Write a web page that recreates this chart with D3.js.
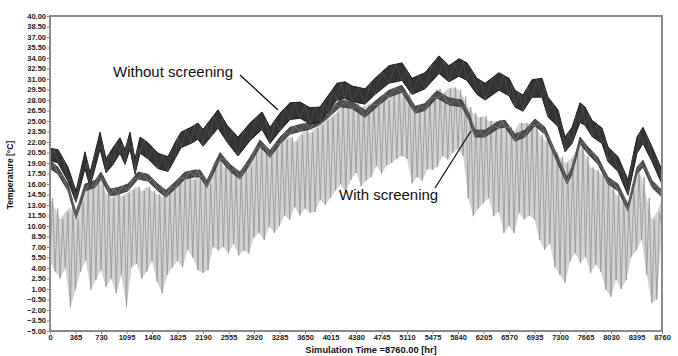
<!DOCTYPE html>
<html>
<head>
<meta charset="utf-8">
<script src="https://cdn.jsdelivr.net/npm/d3@7"></script>
<style>
  html, body { margin: 0; padding: 0; background: #fff; }
  svg { display: block; font-family: Arial, 'Liberation Sans', Helvetica, sans-serif; }
</style>
</head>
<body>
<div id="chart"></div>
<script>
// hourly simulation, one year (°C)
const xTicks = [0, 365, 730, 1095, 1460, 1825, 2190, 2555, 2920, 3285, 3650, 4015, 4380,
  4745, 5110, 5475, 5840, 6205, 6570, 6935, 7300, 7665, 8030, 8395, 8760];
const yTicks = [-5, -3.5, -2, -0.5, 1, 2.5, 4, 5.5, 7, 8.5, 10, 11.5, 13, 14.5, 16, 17.5, 19,
  20.5, 22, 23.5, 25, 26.5, 28, 29.5, 31, 32.5, 34, 35.5, 37, 38.5, 40];

// without screening: [hour, daily low, daily high]
const withoutScreening = [
  [0, 19.4, 21.1], [115, 19.0, 20.9], [258, 16.4, 18.4], [372, 13.4, 15.0], [501, 18.2, 20.6],
  [573, 15.6, 17.6], [716, 21.0, 23.4], [802, 17.6, 19.6], [902, 18.8, 21.2], [1002, 20.4, 22.6],
  [1074, 18.8, 20.9], [1145, 21.0, 23.4], [1217, 17.4, 19.6], [1288, 20.4, 22.7], [1403, 19.6, 21.9],
  [1546, 18.2, 20.4], [1689, 17.8, 19.9], [1789, 19.6, 21.9], [1875, 21.2, 23.4], [2018, 21.8, 24.1],
  [2118, 22.4, 24.7], [2190, 21.4, 23.8], [2290, 22.6, 25.1], [2405, 24.0, 26.6], [2534, 22.0, 24.4],
  [2691, 20.0, 22.7], [2863, 22.2, 24.7], [3035, 23.8, 26.3], [3149, 21.8, 24.1], [3292, 23.6, 26.1],
  [3435, 25.2, 27.6], [3578, 25.4, 27.7], [3722, 24.6, 26.9], [3865, 24.8, 27.0], [3979, 26.4, 28.6],
  [4108, 28.0, 30.4], [4223, 28.2, 30.6], [4323, 27.8, 30.0], [4509, 27.4, 29.6], [4652, 28.8, 31.1],
  [4852, 30.4, 32.9], [5039, 30.8, 33.3], [5182, 28.8, 31.1], [5368, 29.6, 31.9], [5568, 31.8, 34.3],
  [5711, 30.6, 32.9], [5854, 31.4, 33.9], [5969, 30.8, 33.3], [6112, 28.8, 31.1], [6227, 28.0, 30.4],
  [6427, 29.4, 31.9], [6570, 28.6, 31.1], [6656, 27.0, 29.4], [6771, 26.4, 28.7], [6899, 28.4, 30.9],
  [7042, 28.4, 31.1], [7128, 25.6, 28.4], [7271, 24.2, 26.6], [7372, 20.6, 22.7], [7472, 21.8, 24.1],
  [7586, 24.8, 27.6], [7658, 24.4, 27.0], [7758, 22.8, 25.1], [7901, 21.8, 24.0], [7987, 19.2, 21.3],
  [8130, 17.8, 19.9], [8273, 14.4, 16.6], [8402, 20.4, 22.7], [8488, 21.8, 24.1], [8617, 19.2, 21.3],
  [8760, 16.0, 18.0]
];

// with screening: [hour, daily low, daily high]
const withScreening = [
  [0, 18.2, 19.4], [115, 17.4, 18.4], [258, 15.0, 16.0], [372, 11.0, 12.0], [501, 15.0, 16.0],
  [644, 15.5, 16.5], [730, 16.7, 17.7], [859, 14.3, 15.3], [973, 14.5, 15.5], [1116, 15.0, 16.0],
  [1260, 16.7, 17.7], [1403, 16.4, 17.4], [1546, 15.0, 16.0], [1660, 14.1, 15.1], [1789, 15.3, 16.3],
  [1932, 16.7, 17.7], [2075, 17.0, 18.0], [2147, 17.0, 18.0], [2247, 15.5, 16.5], [2433, 19.5, 20.5],
  [2577, 17.8, 18.8], [2720, 16.7, 17.7], [2863, 18.8, 19.8], [3006, 21.3, 22.3], [3149, 19.8, 20.8],
  [3292, 21.7, 22.7], [3435, 23.1, 24.1], [3578, 23.5, 24.5], [3722, 23.8, 24.8], [3865, 24.5, 25.5],
  [4008, 25.7, 26.7], [4151, 27.0, 28.0], [4323, 26.8, 27.8], [4509, 25.5, 26.5], [4709, 27.3, 28.3],
  [4852, 28.4, 29.4], [5039, 29.1, 30.1], [5225, 26.1, 27.1], [5368, 26.5, 27.5], [5540, 28.3, 29.3],
  [5711, 27.3, 28.3], [5897, 27.0, 28.0], [5997, 25.1, 26.1], [6083, 22.7, 23.7], [6227, 22.7, 23.7],
  [6427, 24.0, 25.0], [6513, 24.1, 25.1], [6656, 22.1, 23.1], [6799, 22.7, 23.7], [6942, 24.3, 25.3],
  [7085, 23.1, 24.1], [7228, 19.8, 20.8], [7400, 16.0, 17.0], [7472, 17.4, 18.4], [7586, 21.7, 22.7],
  [7701, 20.3, 21.3], [7844, 18.8, 19.8], [7987, 16.0, 17.0], [8130, 15.0, 16.0], [8273, 12.1, 13.1],
  [8402, 17.4, 18.4], [8488, 18.4, 19.4], [8617, 15.5, 16.5], [8760, 14.1, 15.1]
];

// outdoor trace, sampled every 73 h: daily lows and highs
const ambientStep = 73;
const ambientLow = [
  5.0, 3.5, 2.5, 4.0, -1.6, 0.9, 3.5, 5.1, 0.9, 2.3, 3.7, 1.3, 2.5, 0.4, 3.0, -1.6, 4.1, 4.6, 2.5, 3.5,
  5.0, 2.0, 0.4, 3.0, 4.1, 5.0, 4.1, 6.6, 5.5, 3.7, 3.3, 3.7, 7.0, 6.5, 7.0, 6.1, 7.5, 5.8, 6.5, 6.1,
  8.4, 9.0, 8.0, 9.9, 9.0, 10.0, 11.5, 10.9, 12.7, 11.5, 12.5, 11.9, 12.0, 13.7, 13.0, 14.0, 15.1, 16.0, 14.7, 16.6,
  17.6, 15.7, 16.5, 17.0, 18.6, 17.5, 18.6, 19.0, 19.6, 20.0, 19.6, 16.1, 17.0, 16.5, 18.1, 18.0, 18.5, 20.0, 19.5, 20.5,
  21.0, 20.0, 14.0, 11.4, 12.5, 13.3, 14.0, 11.4, 12.0, 9.0, 10.0, 9.0, 11.9, 10.9, 11.5, 10.9, 8.0, 6.6, 7.5, 4.1,
  3.0, 1.9, 5.0, 6.1, 4.7, 5.6, 3.3, 4.5, 3.5, 0.9, -0.1, 2.3, 1.0, 2.3, 5.6, 6.5, 8.0, 3.0, -1.0, -0.5,
  9.9
];
const ambientHigh = [
  14.0, 12.5, 11.0, 12.0, 12.7, 10.9, 13.5, 15.1, 16.1, 16.6, 16.6, 14.7, 14.0, 14.7, 14.2, 14.7, 15.1, 15.6, 15.0, 15.6,
  15.0, 14.5, 14.2, 14.7, 15.6, 16.1, 16.6, 17.0, 16.6, 17.0, 16.6, 16.0, 19.0, 19.9, 18.5, 18.0, 17.5, 17.3, 18.0, 18.5,
  20.5, 21.3, 20.5, 20.0, 21.3, 21.8, 22.3, 22.7, 22.0, 23.0, 23.7, 23.3, 24.0, 24.4, 25.1, 25.5, 26.1, 27.0, 26.8, 27.0,
  27.6, 27.0, 27.2, 27.6, 28.0, 28.6, 28.0, 28.6, 29.4, 29.6, 29.0, 27.0, 26.7, 27.0, 28.0, 29.0, 29.6, 29.0, 29.6, 29.8,
  29.5, 28.5, 27.0, 26.1, 25.5, 25.7, 25.0, 25.0, 24.5, 24.0, 24.1, 23.5, 24.7, 24.7, 24.5, 24.7, 23.0, 22.3, 21.5, 20.5,
  19.9, 19.0, 19.5, 20.4, 21.5, 20.0, 18.4, 18.0, 17.5, 16.5, 15.6, 14.5, 13.7, 12.5, 15.0, 17.6, 17.0, 14.0, 10.9, 12.0,
  13.7
];

const W = 678, H = 356;
const margin = { top: 16, right: 16, bottom: 25, left: 50 };
const innerW = W - margin.left - margin.right;
const innerH = H - margin.top - margin.bottom;

const svg = d3.select('#chart').append('svg').attr('width', W).attr('height', H);
const g = svg.append('g').attr('transform', `translate(${margin.left},${margin.top})`);

const x = d3.scaleLinear().domain([0, 8760]).range([0, innerW]);
const y = d3.scaleLinear().domain([-5, 40]).range([innerH, 0]);

// outdoor trace: light envelope + daily zigzag
const ambient = ambientLow.map((lo, i) => ({ h: i * ambientStep, lo, hi: ambientHigh[i] }));
g.append('path').datum(ambient)
  .attr('fill', '#d2d2d2')
  .attr('d', d3.area().x(d => x(d.h)).y0(d => y(d.lo)).y1(d => y(d.hi)));
const zig = [];
ambient.forEach((d, i) => {
  zig.push([d.h, d.lo]);
  if (i < ambient.length - 1) zig.push([d.h + ambientStep / 2, d.hi]);
});
g.append('path').datum(zig)
  .attr('fill', 'none').attr('stroke', '#9a9a9a').attr('stroke-width', 0.9)
  .attr('d', d3.line().x(d => x(d[0])).y(d => y(d[1])));

// screened / unscreened bands, with a zigzag through lows/highs for the daily swing
const band = d3.area().x(d => x(d[0])).y0(d => y(d[1])).y1(d => y(d[2]));
const swing = rows => {
  const pts = [];
  rows.forEach((d, i) => {
    pts.push([d[0], d[1]]);
    if (i < rows.length - 1) pts.push([(d[0] + rows[i + 1][0]) / 2, (d[2] + rows[i + 1][2]) / 2]);
  });
  return pts;
};
const swingLine = d3.line().x(d => x(d[0])).y(d => y(d[1]));

g.append('path').datum(withScreening)
  .attr('fill', '#4d4d4d').attr('stroke', '#2e2e2e').attr('stroke-width', 0.7).attr('d', band);
g.append('path').datum(swing(withScreening))
  .attr('fill', 'none').attr('stroke', '#8a8a8a').attr('stroke-width', 0.6).attr('d', swingLine);

g.append('path').datum(withoutScreening)
  .attr('fill', '#333').attr('stroke', '#1e1e1e').attr('stroke-width', 1).attr('d', band);
g.append('path').datum(swing(withoutScreening))
  .attr('fill', 'none').attr('stroke', '#555').attr('stroke-width', 0.6).attr('d', swingLine);

// frame + axes
g.append('rect').attr('x', 0).attr('y', 0).attr('width', innerW).attr('height', innerH)
  .attr('fill', 'none').attr('stroke', '#8a8a8a').attr('stroke-width', 2);

const xAxis = g.append('g').attr('transform', `translate(0,${innerH})`)
  .call(d3.axisBottom(x).tickValues(xTicks).tickSize(3).tickFormat(d3.format('d')));
const yAxis = g.append('g')
  .call(d3.axisLeft(y).tickValues(yTicks).tickSize(3).tickFormat(d3.format('.2f')));
[xAxis, yAxis].forEach(a => {
  a.select('.domain').remove();
  a.selectAll('line').attr('stroke', '#8a8a8a');
  a.selectAll('text').style('font-size', '7.5px').style('font-weight', 'bold').style('fill', '#222');
});
xAxis.selectAll('text').attr('y', 4);
yAxis.selectAll('text').attr('x', -4);

// axis titles
svg.append('text').attr('x', 371).attr('y', 353).attr('text-anchor', 'middle')
  .style('font-size', '9.3px').style('font-weight', 'bold').style('fill', '#111')
  .text('Simulation Time =8760.00 [hr]');
svg.append('text').attr('transform', 'translate(13,175) rotate(-90)').attr('text-anchor', 'middle')
  .style('font-size', '8.5px').style('font-weight', 'bold').style('fill', '#111')
  .text('Temperature [°C]');

// callouts
svg.append('text').attr('x', 113).attr('y', 77)
  .style('font-size', '15px').style('fill', '#111').text('Without screening');
svg.append('line').attr('x1', 240).attr('y1', 75).attr('x2', 278).attr('y2', 110)
  .attr('stroke', '#111').attr('stroke-width', 1.3);
svg.append('text').attr('x', 339).attr('y', 200)
  .style('font-size', '15px').style('fill', '#111').text('With screening');
svg.append('line').attr('x1', 435).attr('y1', 188).attr('x2', 471).attr('y2', 131)
  .attr('stroke', '#111').attr('stroke-width', 1.3);
</script>
</body>
</html>
